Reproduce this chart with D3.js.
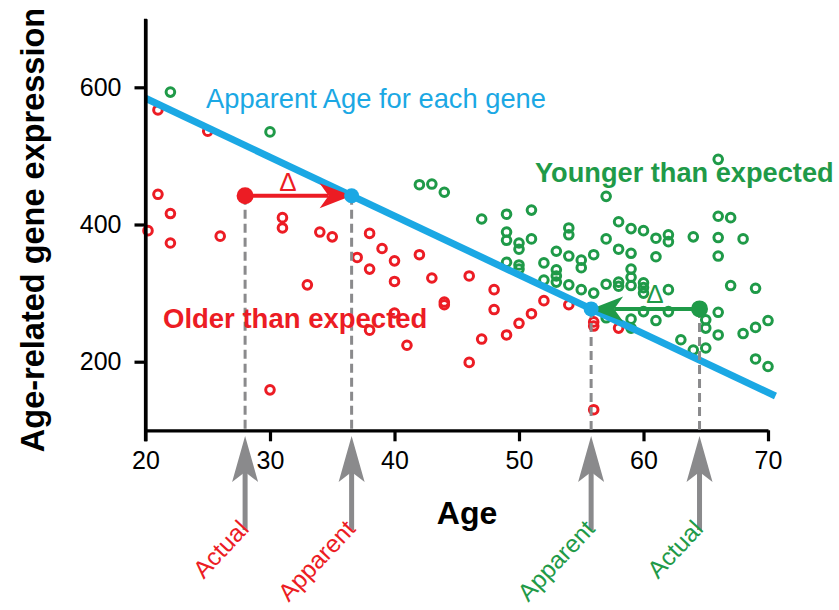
<!DOCTYPE html>
<html>
<head>
<meta charset="utf-8">
<script src="https://cdn.jsdelivr.net/npm/d3@7"></script>
<style>
  html, body { margin: 0; padding: 0; background: #fff; }
  svg { display: block; font-family: "Liberation Sans", Arial, Helvetica, sans-serif; }
</style>
</head>
<body>
<svg id="chart" width="839" height="610"></svg>
<script>
// Genes whose expression is higher than the age trend predicts (look older)
const olderGenes = [
  [21, 567], [25, 536], [21, 444], [22, 416], [20.2, 391], [22, 373], [26, 383],
  [31, 410], [31, 395], [34, 389], [35, 382], [33, 312], [30, 159], [37, 352],
  [38, 387], [39, 365], [40, 347], [42, 356], [38, 335], [40, 317], [43, 322],
  [46, 325], [44, 287], [44, 283], [48, 305], [48, 276], [52, 289], [51, 270],
  [50, 256], [49, 239], [47, 233], [46, 199], [41, 224], [40, 271], [38, 246],
  [54, 283], [56, 258], [56, 252], [58, 249], [56, 130]
];

// Genes whose expression is lower than the age trend predicts (look younger)
const youngerGenes = [
  [22, 593], [30, 535], [42, 458], [43, 459], [44, 447], [47, 408], [49, 415],
  [51, 421], [49, 389], [49, 377], [50, 373], [50, 364], [51, 379], [49, 345],
  [50, 341], [50, 335], [52, 344], [52, 319], [53, 361], [53, 334], [53, 325],
  [53, 316], [54, 395], [54, 385], [54, 354], [55, 348], [55, 337], [56, 356],
  [54, 312], [55, 305], [56, 300], [66, 495], [57, 441], [58, 404], [59, 394],
  [60, 391], [61, 380], [62, 385], [62, 375], [64, 382], [66, 412], [67, 410],
  [66, 381], [68, 379], [57, 379], [58, 364], [59, 358], [61, 353], [66, 354],
  [59, 335], [59, 323], [59, 311], [58, 316], [58, 310], [57, 313], [60, 315],
  [60, 308], [60, 300], [62, 305], [67, 311], [69, 307], [60, 273], [62, 273],
  [61, 260], [59, 262], [59, 249], [57, 264], [66, 272], [65, 261], [65, 249],
  [66, 239], [68, 241], [69, 250], [70, 260], [63, 232], [64, 217], [65, 220],
  [69, 204], [70, 193]
];

// Age trend: expected expression for each age
const apparentLine = [[20, 584], [70.6, 150]];

// Two example genes: actual age and their expression level
const olderExample = { age: 28, expr: 442 };
const youngerExample = { age: 64.5, expr: 277 };

const xTicks = [20, 30, 40, 50, 60, 70];
const yTicks = [200, 400, 600];

const RED = "#ec1c24", GREEN = "#1f9a48", BLUE = "#1ba8e4", GREY = "#8a8a8c";

const svg = d3.select("#chart");
const x = d3.scaleLinear().domain([20, 70]).range([145.5, 768]);
const y = d3.scaleLinear().domain([100, 700]).range([430.3, 18.7]);

// Apparent age: the age at which the trend line reaches a given expression
const slope = (apparentLine[1][1] - apparentLine[0][1]) / (apparentLine[1][0] - apparentLine[0][0]);
const apparentAge = v => apparentLine[0][0] + (v - apparentLine[0][1]) / slope;

// Scatter of genes
const dots = svg.append("g").attr("fill", "none").attr("stroke-width", 3);
dots.selectAll("circle.older").data(olderGenes).join("circle")
  .attr("class", "older")
  .attr("cx", d => x(d[0])).attr("cy", d => y(d[1])).attr("r", 4.3)
  .attr("stroke", RED);
dots.selectAll("circle.younger").data(youngerGenes).join("circle")
  .attr("class", "younger")
  .attr("cx", d => x(d[0])).attr("cy", d => y(d[1])).attr("r", 4.3)
  .attr("stroke", GREEN);

// Trend line
svg.append("line")
  .attr("x1", x(apparentLine[0][0])).attr("y1", y(apparentLine[0][1]))
  .attr("x2", x(apparentLine[1][0])).attr("y2", y(apparentLine[1][1]))
  .attr("stroke", BLUE).attr("stroke-width", 7);

// Axes
const yAxis = svg.append("g")
  .attr("transform", `translate(${x(20)},0)`)
  .call(d3.axisLeft(y).tickValues(yTicks).tickSize(11).tickSizeOuter(0).tickPadding(13));
const xAxis = svg.append("g")
  .attr("transform", `translate(0,${y(100)})`)
  .call(d3.axisBottom(x).tickValues(xTicks).tickSize(11).tickSizeOuter(0).tickPadding(10));
[xAxis, yAxis].forEach(g => {
  g.select(".domain").attr("stroke", "#000").attr("stroke-width", 3.2);
  g.selectAll(".tick line").attr("stroke", "#000").attr("stroke-width", 3.2);
  g.selectAll(".tick text").attr("fill", "#000").attr("font-size", 25)
    .attr("font-family", "'Liberation Sans', Arial, sans-serif");
});
// extend the y axis line down to meet the 20 tick
svg.append("line")
  .attr("x1", x(20)).attr("x2", x(20))
  .attr("y1", y(700)).attr("y2", y(100) + 11)
  .attr("stroke", "#000").attr("stroke-width", 3.2);

// Axis titles
svg.append("text")
  .attr("x", 467).attr("y", 524).attr("text-anchor", "middle")
  .attr("font-size", 32).attr("font-weight", "bold").text("Age");
svg.append("text")
  .attr("transform", "translate(44,230) rotate(-90)")
  .attr("text-anchor", "middle")
  .attr("font-size", 32.5).attr("font-weight", "bold")
  .text("Age-related gene expression");

// Dashed drop lines from the example points to the age axis
const examples = [
  { age: olderExample.age, expr: olderExample.expr, color: RED, label: "Actual" },
  { age: apparentAge(olderExample.expr), expr: olderExample.expr, color: RED, label: "Apparent" },
  { age: apparentAge(youngerExample.expr), expr: youngerExample.expr, color: GREEN, label: "Apparent" },
  { age: youngerExample.age, expr: youngerExample.expr, color: GREEN, label: "Actual" }
];
svg.append("g").selectAll("line").data(examples).join("line")
  .attr("x1", d => x(d.age)).attr("x2", d => x(d.age))
  .attr("y1", d => y(d.expr)).attr("y2", y(100))
  .attr("stroke", GREY).attr("stroke-width", 3).attr("stroke-dasharray", "9,5");

// Horizontal arrows from actual age to apparent age
function hArrow(x0, x1, yy, color) {
  const dir = Math.sign(x1 - x0);
  const len = 32, half = 12.5, notch = 23;
  svg.append("line")
    .attr("x1", x0).attr("x2", x1 - dir * notch).attr("y1", yy).attr("y2", yy)
    .attr("stroke", color).attr("stroke-width", 4);
  svg.append("path")
    .attr("d", `M${x1},${yy} L${x1 - dir * len},${yy - half} L${x1 - dir * notch},${yy} L${x1 - dir * len},${yy + half} Z`)
    .attr("fill", color);
}
hArrow(x(examples[0].age), x(examples[1].age), y(olderExample.expr), RED);
hArrow(x(examples[3].age), x(examples[2].age), y(youngerExample.expr), GREEN);

// Example gene markers
svg.append("circle").attr("cx", x(examples[0].age)).attr("cy", y(olderExample.expr)).attr("r", 8.5).attr("fill", RED);
svg.append("circle").attr("cx", x(examples[3].age)).attr("cy", y(youngerExample.expr)).attr("r", 8.5).attr("fill", GREEN);
svg.append("circle").attr("cx", x(examples[1].age)).attr("cy", y(olderExample.expr)).attr("r", 7.5).attr("fill", BLUE);
svg.append("circle").attr("cx", x(examples[2].age)).attr("cy", y(youngerExample.expr)).attr("r", 7.5).attr("fill", BLUE);

// Delta symbols
svg.append("text").attr("x", 288).attr("y", 191).attr("text-anchor", "middle")
  .attr("font-size", 26).attr("fill", RED).text("Δ");
svg.append("text").attr("x", 655).attr("y", 303).attr("text-anchor", "middle")
  .attr("font-size", 26).attr("fill", GREEN).text("Δ");

// Upward arrows under the age axis with their labels
const up = svg.append("g").selectAll("g").data(examples).join("g")
  .attr("transform", d => `translate(${x(d.age)},0)`);
up.append("rect").attr("x", -2.5).attr("width", 5).attr("y", 470).attr("height", 60).attr("fill", GREY);
up.append("path").attr("d", "M0,436 L-13,482 L0,472 L13,482 Z").attr("fill", GREY);
up.append("text")
  .attr("transform", "translate(5,530) rotate(-47)")
  .attr("text-anchor", "end")
  .attr("font-size", 24.5)
  .attr("fill", d => d.color)
  .text(d => d.label);

// Annotations
svg.append("text").attr("x", 206).attr("y", 108).attr("font-size", 27.3)
  .attr("fill", BLUE).text("Apparent Age for each gene");
svg.append("text").attr("x", 535).attr("y", 182).attr("font-size", 27.2).attr("font-weight", "bold")
  .attr("fill", GREEN).text("Younger than expected");
svg.append("text").attr("x", 163).attr("y", 328).attr("font-size", 27.5).attr("font-weight", "bold")
  .attr("fill", RED).text("Older than expected");
</script>
</body>
</html>
